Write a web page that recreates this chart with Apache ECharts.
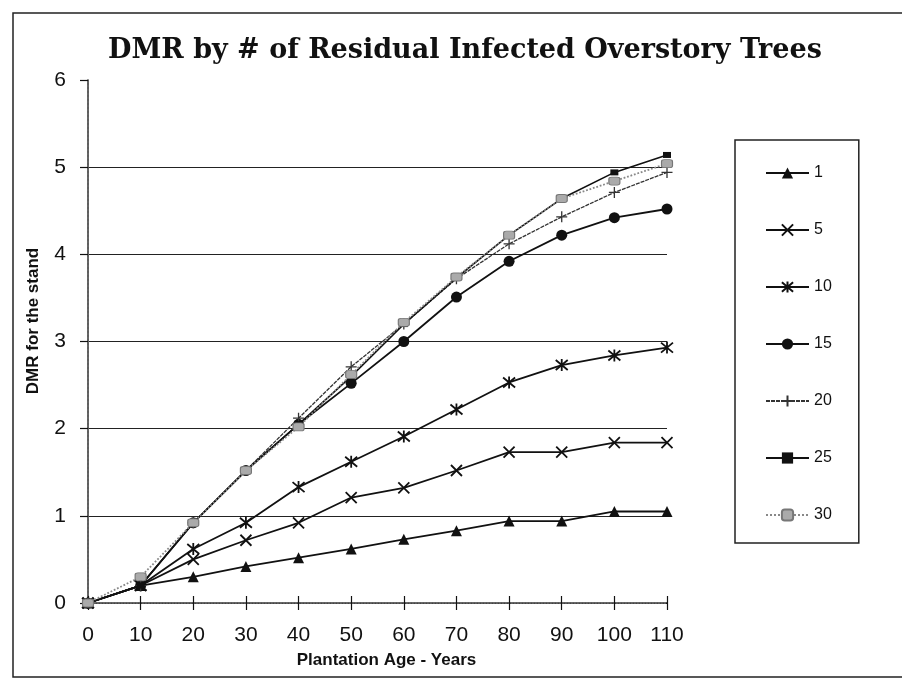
<!DOCTYPE html>
<html>
<head>
<meta charset="utf-8">
<script src="https://cdn.jsdelivr.net/npm/echarts@6/dist/echarts.min.js"></script>
<style>
  html, body { margin: 0; padding: 0; background: #fff; }
  #chart { width: 902px; height: 682px; }
</style>
</head>
<body>
<div id="chart"></div>
<script>
// plantation age (years)
var ages = [0, 10, 20, 30, 40, 50, 60, 70, 80, 90, 100, 110];

// DMR for the stand, one array per # of residual infected overstory trees
var trees1  = [0, 0.2, 0.3, 0.42, 0.52, 0.62, 0.73, 0.83, 0.94, 0.94, 1.05, 1.05];
var trees5  = [0, 0.2, 0.5, 0.72, 0.92, 1.21, 1.32, 1.52, 1.73, 1.73, 1.84, 1.84];
var trees10 = [0, 0.2, 0.62, 0.92, 1.33, 1.62, 1.91, 2.22, 2.53, 2.73, 2.84, 2.93];
var trees15 = [0, 0.2, 0.92, 1.52, 2.05, 2.52, 3.0, 3.51, 3.92, 4.22, 4.42, 4.52];
var trees20 = [0, 0.2, 0.92, 1.52, 2.12, 2.71, 3.2, 3.72, 4.12, 4.43, 4.71, 4.94];
var trees25 = [0, 0.2, 0.92, 1.52, 2.05, 2.6, 3.2, 3.73, 4.22, 4.64, 4.94, 5.14];
var trees30 = [0, 0.3, 0.92, 1.52, 2.02, 2.62, 3.22, 3.74, 4.22, 4.64, 4.84, 5.04];

var seriesNames = ['1', '5', '10', '15', '20', '25', '30'];

function pairs(vals) {
    var out = [];
    for (var i = 0; i < ages.length; i++) {
        out.push([ages[i], vals[i]]);
    }
    return out;
}

var chart = echarts.init(document.getElementById('chart'));

var FONT = 'Liberation Sans';
var xPath = 'path://M0,0L10,10M10,0L0,10';
var starPath = 'path://M0,0L10,10M10,0L0,10M5,-1L5,11';
var plusPath = 'path://M0,5L10,5M5,0L5,10';

var option = {
    animation: false,
    backgroundColor: '#fff',
    title: {
        text: 'DMR by # of Residual Infected Overstory Trees',
        left: 103,
        top: 32,
        textStyle: {
            fontFamily: 'DejaVu Serif',
            fontWeight: 'bold',
            fontSize: 27,
            color: '#111'
        }
    },
    legend: {
        data: seriesNames,
        orient: 'vertical',
        left: 735,
        top: 140,
        padding: [25, 27, 20, 30],
        itemWidth: 43,
        itemHeight: 14,
        itemGap: 41,
        borderColor: '#222',
        borderWidth: 1.5,
        textStyle: { fontFamily: FONT, fontSize: 16, color: '#111' }
    },
    grid: { left: 88, right: 235, top: 80, bottom: 79 },
    xAxis: [
        {
            type: 'value',
            min: 0, max: 110, interval: 10,
            name: 'Plantation Age - Years',
            nameLocation: 'middle',
            nameGap: 49,
            nameTextStyle: { fontFamily: FONT, fontWeight: 'bold', fontSize: 17, color: '#111', padding: [0, 0, 0, 18] },
            axisLine: { lineStyle: { color: '#111', width: 1.5 } },
            axisTick: { show: true, length: 7, lineStyle: { color: '#111', width: 1.2 } },
            axisLabel: { fontFamily: FONT, fontSize: 21, color: '#111', margin: 22 },
            splitLine: { show: false }
        },
        {
            // top border of the plot area (dotted)
            type: 'value', position: 'top',
            min: 0, max: 110, interval: 10,
            axisLine: { lineStyle: { color: '#777', width: 1.5, type: 'dotted' } },
            axisTick: { show: false }, axisLabel: { show: false }, splitLine: { show: false }
        },
        {
            // inner half of the crossing tick marks
            type: 'value', position: 'bottom',
            min: 0, max: 110, interval: 10,
            axisLine: { show: false },
            axisTick: { show: true, inside: true, length: 7, lineStyle: { color: '#111', width: 1.2 } },
            axisLabel: { show: false }, splitLine: { show: false }
        }
    ],
    yAxis: [
        {
            type: 'value',
            min: 0, max: 6, interval: 1,
            axisLine: { show: true, lineStyle: { color: '#111', width: 1.5 } },
            axisTick: { show: true, length: 8, lineStyle: { color: '#111', width: 1.2 } },
            axisLabel: { fontFamily: FONT, fontSize: 21, color: '#111', margin: 22 },
            splitLine: { show: true, showMaxLine: false, lineStyle: { color: '#222', width: 1.2 } }
        },
        {
            // right border of the plot area
            type: 'value', position: 'right',
            min: 0, max: 6, interval: 1,
            axisLine: { show: true, lineStyle: { color: '#666', width: 2, type: 'dotted' } },
            axisTick: { show: false }, axisLabel: { show: false }, splitLine: { show: false }
        }
    ],
    graphic: [
        {
            type: 'rect',
            shape: { x: 13, y: 13, width: 905, height: 664 },
            style: { fill: 'none', stroke: '#222', lineWidth: 1.5 },
            silent: true
        },
        {
            type: 'text',
            x: 33, y: 321,
            rotation: Math.PI / 2,
            style: {
                text: 'DMR for the stand',
                fontFamily: FONT, fontWeight: 'bold', fontSize: 17, fill: '#111',
                textAlign: 'center', textVerticalAlign: 'middle'
            }
        }
    ],
    series: [
        {
            name: '1', type: 'line', data: pairs(trees1),
            symbol: 'triangle', symbolSize: 11,
            lineStyle: { color: '#111', width: 1.8 },
            itemStyle: { color: '#111' }
        },
        {
            name: '5', type: 'line', data: pairs(trees5),
            symbol: xPath, symbolSize: 11,
            lineStyle: { color: '#111', width: 1.8 },
            itemStyle: { color: '#111', borderColor: '#111', borderWidth: 1.8 }
        },
        {
            name: '10', type: 'line', data: pairs(trees10),
            symbol: starPath, symbolSize: 12,
            lineStyle: { color: '#111', width: 1.8 },
            itemStyle: { color: '#111', borderColor: '#111', borderWidth: 1.8 }
        },
        {
            name: '15', type: 'line', data: pairs(trees15),
            symbol: 'circle', symbolSize: 11,
            lineStyle: { color: '#111', width: 1.8 },
            itemStyle: { color: '#111' }
        },
        {
            name: '20', type: 'line', data: pairs(trees20),
            symbol: plusPath, symbolSize: 11,
            lineStyle: { color: '#333', width: 1.3, type: [4, 1] },
            itemStyle: { color: '#333', borderColor: '#333', borderWidth: 1.3 }
        },
        {
            name: '25', type: 'line', data: pairs(trees25),
            symbol: 'rect', symbolSize: [8, 6],
            lineStyle: { color: '#111', width: 1.6 },
            itemStyle: { color: '#111' }
        },
        {
            name: '30', type: 'line', data: pairs(trees30),
            symbol: 'roundRect', symbolSize: [11, 8],
            lineStyle: { color: '#888', width: 1.8, type: 'dotted' },
            itemStyle: { color: '#aaa', borderColor: '#777', borderWidth: 1 }
        }
    ]
};

chart.setOption(option);
</script>
</body>
</html>
